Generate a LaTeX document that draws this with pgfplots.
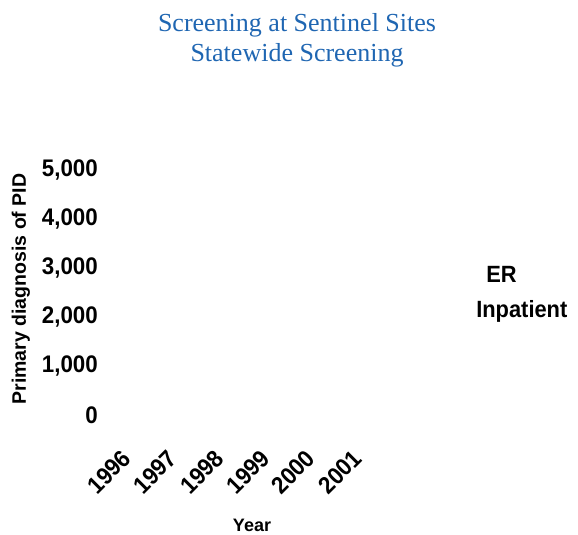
\documentclass[border=0pt]{standalone}
\usepackage{pgfplots}
\pgfplotsset{compat=1.18}
\usepackage{fontspec}
\setmainfont{Liberation Sans}
\newfontfamily\condfont[FakeStretch=0.93]{Liberation Sans}
\newfontfamily\titlefont{Liberation Serif}
\definecolor{titleblue}{RGB}{31,102,178}
\begin{document}
\begin{tikzpicture}[x=1bp,y=1bp]
\path[use as bounding box] (0,0) rectangle (578,535);
\begin{axis}[
  at={(100bp,120bp)}, anchor=south west,
  scale only axis, width=300bp, height=245bp,
  xmin=100, xmax=400, ymin=0, ymax=5000,
  axis line style={draw=none}, major tick length=0pt,
  xtick={109,155,202,248,293,340},
  xticklabels={1996,1997,1998,1999,2000,2001},
  ytick={0,1000,2000,3000,4000,5000},
  yticklabels={0,{1,000},{2,000},{3,000},{4,000},{5,000}},
  /pgf/number format/assume math mode=true,
  tick label style={font=\condfont\bfseries\fontsize{24bp}{24bp}\selectfont},
  x tick label style={yshift=-57bp, rotate=45, anchor=center},
  y tick label style={anchor=east, inner sep=0pt, xshift=-2bp},
  legend style={draw=none, fill=none, at={(1.247,0.615)}, anchor=north west,
    font=\condfont\bfseries\fontsize{23.5bp}{23.5bp}\selectfont, inner sep=0pt,
    row sep=12bp},
  legend cell align=left,
  legend image code/.code={},
]
\addlegendimage{empty legend}
\addlegendentry{\hspace*{10bp}ER}
\addlegendimage{empty legend}
\addlegendentry{Inpatient}
\end{axis}
\node[anchor=base, text=titleblue, font=\titlefont\fontsize{26bp}{26bp}\selectfont] at (297,503) {Screening at Sentinel Sites};
\node[anchor=base, text=titleblue, font=\titlefont\fontsize{26bp}{26bp}\selectfont] at (297,473) {Statewide Screening};
\node[font=\bfseries\fontsize{18bp}{18bp}\selectfont] at (252,10) {Year};
\node[rotate=90, font=\bfseries\fontsize{19.5bp}{19.5bp}\selectfont] at (21,246) {Primary diagnosis of PID};
\end{tikzpicture}
\end{document}
